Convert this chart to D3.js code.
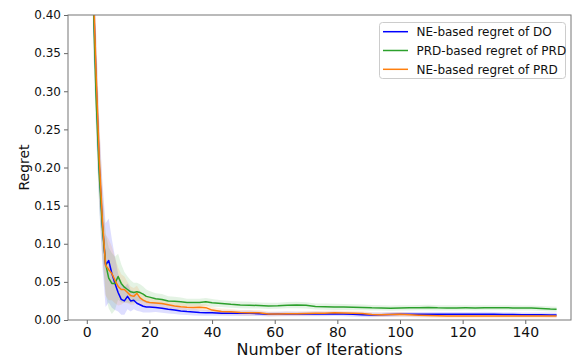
<!DOCTYPE html>
<html><head><meta charset="utf-8">
<script src="https://cdn.jsdelivr.net/npm/d3@7"></script>
<style>body{margin:0;background:#fff;}svg{display:block;font-family:"DejaVu Sans",sans-serif;}</style>
</head><body>
<svg id="c" width="575" height="362"></svg>
<script>
const iters = [1,2,3,4,5,6,7,8,9,10,11,12,13,14,15,16,17,18,19,20,22,24,26,28,30,32,34,36,38,40,43,46,49,52,55,58,61,64,67,70,73,76,79,82,85,88,91,94,97,100,103,106,109,112,115,118,121,124,127,130,133,136,139,142,145,148,150];

const doMean = [0.95,0.44,0.31,0.20,0.125,0.072,0.078,0.061,0.048,0.036,0.027,0.025,0.031,0.025,0.026,0.022,0.020,0.018,0.017,0.017,0.0165,0.0155,0.014,0.013,0.0118,0.011,0.0105,0.0097,0.0095,0.0096,0.0090,0.0088,0.0087,0.0088,0.0082,0.0076,0.0078,0.0080,0.0079,0.0078,0.0080,0.0079,0.0081,0.0078,0.0074,0.0070,0.0067,0.0070,0.0073,0.0075,0.0076,0.0074,0.0074,0.0076,0.0075,0.0076,0.0074,0.0075,0.0077,0.0075,0.0072,0.0071,0.0070,0.0070,0.0068,0.0067,0.0066];
const doStd = [0.1,0.07,0.06,0.055,0.055,0.055,0.055,0.045,0.035,0.025,0.02,0.018,0.017,0.014,0.012,0.01,0.009,0.008,0.007,0.007,0.006,0.006,0.0055,0.005,0.005,0.0045,0.0045,0.004,0.004,0.004,0.0035,0.0035,0.0035,0.0035,0.003,0.003,0.003,0.003,0.003,0.003,0.003,0.003,0.003,0.003,0.003,0.003,0.003,0.003,0.003,0.003,0.003,0.003,0.003,0.003,0.003,0.003,0.003,0.003,0.003,0.003,0.003,0.003,0.003,0.003,0.003,0.003,0.003];

const prdMean = [0.9,0.43,0.29,0.19,0.12,0.074,0.055,0.048,0.048,0.057,0.048,0.043,0.040,0.037,0.036,0.037,0.036,0.034,0.031,0.030,0.028,0.027,0.025,0.0245,0.024,0.023,0.023,0.0228,0.024,0.0225,0.0215,0.0205,0.0198,0.0195,0.0190,0.0185,0.0186,0.0195,0.0197,0.0192,0.0178,0.0175,0.0172,0.0170,0.0167,0.0165,0.0160,0.0158,0.0155,0.0158,0.0160,0.0162,0.0164,0.0160,0.0159,0.0159,0.0160,0.0159,0.0160,0.0160,0.0160,0.0159,0.0158,0.0156,0.0150,0.0143,0.0142];
const prdStd = [0.08,0.06,0.05,0.045,0.04,0.04,0.04,0.04,0.035,0.03,0.025,0.02,0.017,0.015,0.013,0.012,0.011,0.01,0.009,0.008,0.007,0.007,0.006,0.006,0.0055,0.005,0.005,0.005,0.005,0.005,0.0045,0.0045,0.0045,0.0045,0.004,0.004,0.004,0.004,0.0042,0.0042,0.004,0.004,0.004,0.004,0.004,0.0038,0.0036,0.0035,0.0035,0.0035,0.0035,0.0035,0.0035,0.0035,0.0033,0.0033,0.0033,0.0033,0.0033,0.0033,0.0033,0.0033,0.0033,0.0033,0.0033,0.0033,0.0033];

const nePrdMean = [0.95,0.45,0.32,0.21,0.13,0.072,0.066,0.061,0.052,0.044,0.040,0.040,0.036,0.032,0.031,0.035,0.029,0.026,0.024,0.023,0.0222,0.0215,0.020,0.0185,0.0175,0.0168,0.0165,0.0166,0.0162,0.013,0.011,0.0108,0.0097,0.0095,0.0096,0.0080,0.0078,0.0082,0.0083,0.0085,0.0087,0.0090,0.0095,0.0092,0.0088,0.0085,0.0072,0.0068,0.0072,0.0074,0.0068,0.0062,0.0058,0.0055,0.0053,0.0053,0.0054,0.0052,0.0053,0.0052,0.0052,0.0051,0.0052,0.0051,0.0051,0.0052,0.0052];
const nePrdStd = [0.09,0.065,0.055,0.05,0.045,0.04,0.04,0.035,0.03,0.025,0.02,0.017,0.014,0.012,0.011,0.01,0.009,0.008,0.007,0.006,0.006,0.0055,0.005,0.005,0.005,0.0045,0.0045,0.0045,0.0045,0.004,0.004,0.0035,0.0035,0.0035,0.0035,0.003,0.003,0.003,0.003,0.003,0.003,0.003,0.003,0.003,0.003,0.003,0.003,0.003,0.003,0.003,0.003,0.003,0.003,0.003,0.003,0.003,0.003,0.003,0.003,0.003,0.003,0.003,0.003,0.003,0.003,0.003,0.003];

const seriesNames = ["NE-based regret of DO","PRD-based regret of PRD","NE-based regret of PRD"];
const seriesColors = ["#0000ff","#2ca02c","#ff7f0e"];
const xTicks = [0,20,40,60,80,100,120,140];
const yTicks = [0,0.05,0.10,0.15,0.20,0.25,0.30,0.35,0.40];

const series = [
  {name: seriesNames[0], color: seriesColors[0], mean: doMean, std: doStd},
  {name: seriesNames[1], color: seriesColors[1], mean: prdMean, std: prdStd},
  {name: seriesNames[2], color: seriesColors[2], mean: nePrdMean, std: nePrdStd}
];

const L = 68, R = 571, T = 15, B = 320;
const svg = d3.select("#c");
const x = d3.scaleLinear().domain([-6, 154.6]).range([L, R]);
const y = d3.scaleLinear().domain([0, 0.40]).range([B, T]);

svg.append("defs").append("clipPath").attr("id","clip")
  .append("rect").attr("x",L).attr("y",T).attr("width",R-L).attr("height",B-T);

const g = svg.append("g").attr("clip-path","url(#clip)");

series.forEach(s => {
  const pts = iters.map((it,i) => ({x: it, m: s.mean[i], sd: s.std[i]}));
  g.append("path").datum(pts)
    .attr("fill", s.color).attr("fill-opacity", 0.13).attr("stroke","none")
    .attr("d", d3.area().x(d => x(d.x)).y0(d => y(d.m - d.sd)).y1(d => y(d.m + d.sd)));
});
series.forEach(s => {
  const pts = iters.map((it,i) => ({x: it, m: s.mean[i]}));
  g.append("path").datum(pts)
    .attr("fill","none").attr("stroke", s.color).attr("stroke-width",1.5)
    .attr("stroke-linejoin","round")
    .attr("d", d3.line().x(d => x(d.x)).y(d => y(d.m)));
});

// axes
const xAxis = svg.append("g").attr("transform",`translate(0,${B})`)
  .call(d3.axisBottom(x).tickValues(xTicks).tickSize(4).tickPadding(3).tickFormat(d3.format("d")));
xAxis.select(".domain").remove();
xAxis.selectAll("text").attr("font-size",14).attr("font-family","DejaVu Sans").attr("fill","#111");
xAxis.selectAll("line").attr("stroke","#666");

const yAxis = svg.append("g").attr("transform",`translate(${L},0)`)
  .call(d3.axisLeft(y).tickValues(yTicks).tickSize(4).tickPadding(3).tickFormat(d3.format(".2f")));
yAxis.select(".domain").remove();
yAxis.selectAll("text").attr("font-size",12).attr("font-family","DejaVu Sans").attr("fill","#111");
yAxis.selectAll("line").attr("stroke","#666");

// frame
svg.append("rect").attr("x",L).attr("y",T).attr("width",R-L).attr("height",B-T)
  .attr("fill","none").attr("stroke","#777").attr("stroke-width",1);

// labels
svg.append("text").attr("x",(L+R)/2).attr("y",355).attr("text-anchor","middle")
  .attr("font-size",16).attr("fill","#111").text("Number of Iterations");
svg.append("text").attr("transform",`translate(29,${(T+B)/2}) rotate(-90)`).attr("text-anchor","middle")
  .attr("font-size",14).attr("fill","#111").text("Regret");

// legend
const lg = svg.append("g");
lg.append("rect").attr("x",379.5).attr("y",22.5).attr("width",186).attr("height",56).attr("rx",3)
  .attr("fill","#fff").attr("fill-opacity",0.8).attr("stroke","#ccc");
series.forEach((s,i) => {
  const yy = 31.7 + i*18.8;
  lg.append("line").attr("x1",383).attr("x2",408).attr("y1",yy).attr("y2",yy)
    .attr("stroke",s.color).attr("stroke-width",1.5);
  lg.append("text").attr("x",416.5).attr("y",yy+4.3).attr("font-size",12).attr("fill","#111").text(s.name);
});
</script>
</body></html>
